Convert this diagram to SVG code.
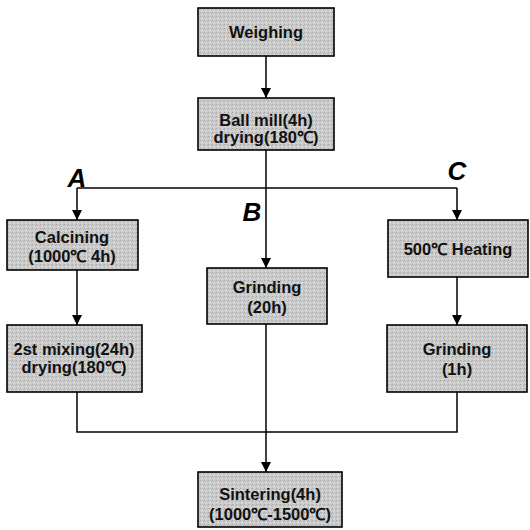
<svg xmlns="http://www.w3.org/2000/svg" width="530" height="530" viewBox="0 0 530 530">
<style>
.box{fill:url(#stip);stroke:#000;stroke-width:1.6}
.t{font-family:"Liberation Sans",Arial,sans-serif;font-size:16.5px;font-weight:bold;fill:#111;text-anchor:middle}
.lbl{font-family:"Liberation Sans",Arial,sans-serif;font-size:26px;font-weight:bold;font-style:italic;fill:#000;text-anchor:middle}
.ln{stroke:#000;stroke-width:1.5;fill:none}
</style>
<defs>
<pattern id="stip" width="4" height="4" patternUnits="userSpaceOnUse">
<rect width="4" height="4" fill="#c9c9c9"/>
<rect x="0" y="0" width="1" height="1" fill="#a8a8a8"/>
<rect x="2" y="2" width="1" height="1" fill="#e6e6e6"/>
<rect x="3" y="1" width="1" height="1" fill="#b4b4b4"/>
<rect x="1" y="3" width="1" height="1" fill="#dcdcdc"/>
</pattern>
<marker id="ah" viewBox="0 0 10 10" refX="10" refY="5" markerWidth="10" markerHeight="10" markerUnits="userSpaceOnUse" orient="auto">
<path d="M0,0 L10,5 L0,10 z" fill="#000"/>
</marker>
</defs>
<g id="connectors">
<line class="ln" x1="266" y1="56" x2="266" y2="98" marker-end="url(#ah)"/>
<line class="ln" x1="266" y1="150" x2="266" y2="268" marker-end="url(#ah)"/>
<line class="ln" x1="77" y1="188" x2="457" y2="188"/>
<line class="ln" x1="77" y1="188" x2="77" y2="220" marker-end="url(#ah)"/>
<line class="ln" x1="457" y1="188" x2="457" y2="220" marker-end="url(#ah)"/>
<line class="ln" x1="77" y1="270" x2="77" y2="325" marker-end="url(#ah)"/>
<line class="ln" x1="457" y1="277" x2="457" y2="325" marker-end="url(#ah)"/>
<polyline class="ln" points="77,392 77,432 457,432 457,392"/>
<line class="ln" x1="266" y1="324" x2="266" y2="472" marker-end="url(#ah)"/>
</g>
<g id="labels">
<text class="lbl" x="77" y="187">A</text>
<text class="lbl" x="252" y="221">B</text>
<text class="lbl" x="457" y="180">C</text>
</g>
<g id="weighing">
<rect class="box" x="198" y="8" width="136" height="48"/>
<text class="t" x="266" y="38">Weighing</text>
</g>
<g id="ballmill">
<rect class="box" x="198" y="98" width="136" height="52"/>
<text class="t" x="266" y="126">Ball mill(4h)</text>
<text class="t" x="266" y="143">drying(180℃)</text>
</g>
<g id="calcining">
<rect class="box" x="7" y="220" width="131" height="50"/>
<text class="t" x="72" y="243">Calcining</text>
<text class="t" x="72" y="262">(1000℃ 4h)</text>
</g>
<g id="mixing">
<rect class="box" x="7" y="325" width="135" height="67"/>
<text class="t" x="74" y="355">2st mixing(24h)</text>
<text class="t" x="74" y="373">drying(180℃)</text>
</g>
<g id="grinding20">
<rect class="box" x="207" y="268" width="120" height="56"/>
<text class="t" x="267" y="293">Grinding</text>
<text class="t" x="267" y="313">(20h)</text>
</g>
<g id="heating">
<rect class="box" x="388" y="220" width="140" height="57"/>
<text class="t" x="458" y="255">500℃ Heating</text>
</g>
<g id="grinding1">
<rect class="box" x="387" y="325" width="140" height="67"/>
<text class="t" x="457" y="355">Grinding</text>
<text class="t" x="457" y="375">(1h)</text>
</g>
<g id="sintering">
<rect class="box" x="198" y="472" width="144" height="55"/>
<text class="t" x="270" y="500">Sintering(4h)</text>
<text class="t" x="270" y="520">(1000℃-1500℃)</text>
</g>
</svg>
